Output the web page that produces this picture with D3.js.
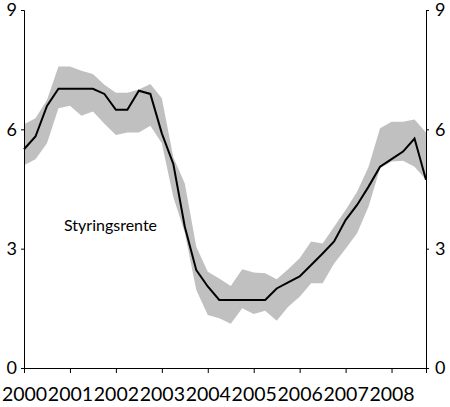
<!DOCTYPE html><html><head><meta charset="utf-8">
<script src="https://cdn.jsdelivr.net/npm/d3@7"></script>
<style>body{margin:0;background:#fff}svg{font-family:Lato,"Open Sans",sans-serif}</style></head><body>
<svg id="c" width="450" height="407"></svg>
<script>
const rate=[5.5,5.82,6.59,7.02,7.02,7.02,7.02,6.89,6.49,6.49,6.97,6.89,5.9,5.13,3.55,2.46,2.05,1.71,1.71,1.71,1.71,1.71,2.0,2.15,2.3,2.59,2.88,3.18,3.72,4.1,4.56,5.06,5.25,5.44,5.77,4.73];
const upper=[6.13,6.28,6.74,7.58,7.58,7.47,7.39,7.12,6.92,6.92,7.0,7.14,6.78,5.3,4.64,3.05,2.42,2.25,2.06,2.48,2.4,2.38,2.23,2.48,2.76,3.18,3.13,3.55,3.97,4.43,5.06,6.03,6.19,6.19,6.25,5.92];
const lower=[5.1,5.25,5.65,6.53,6.59,6.34,6.45,6.14,5.86,5.92,5.92,6.09,5.65,4.3,3.4,1.96,1.33,1.25,1.11,1.5,1.36,1.44,1.19,1.54,1.79,2.13,2.13,2.63,3.0,3.39,4.06,5.02,5.19,5.21,5.06,4.73];
const years=[2000,2001,2002,2003,2004,2005,2006,2007,2008];
const yTicks=[0,3,6,9];
const svg=d3.select("#c");
const x=d3.scaleLinear().domain([2000,2008.75]).range([24,426]);
const y=d3.scaleLinear().domain([0,9]).range([368,10]);
const t=i=>2000+i*0.25;
svg.append("path").datum(rate).attr("fill","#c0c0c0")
 .attr("d",d3.area().x((d,i)=>x(t(i))).y0((d,i)=>y(lower[i])).y1((d,i)=>y(upper[i])));
svg.append("path").datum(rate).attr("fill","none").attr("stroke","#000").attr("stroke-width",2)
 .attr("d",d3.line().x((d,i)=>x(t(i))).y(d=>y(d)));
const yl=svg.append("g").attr("transform","translate(24,0)").call(d3.axisLeft(y).tickValues(yTicks).tickSize(3).tickPadding(4).tickFormat(d3.format("d")));
const yr=svg.append("g").attr("transform","translate(426,0)").call(d3.axisRight(y).tickValues(yTicks).tickSize(3).tickPadding(6).tickFormat(d3.format("d")));
const xa=svg.append("g").attr("transform","translate(0,368)").call(d3.axisBottom(x).tickValues(years.concat([2008.75])).tickSize(5).tickPadding(14).tickFormat(d=>years.includes(d)?d:""));
[yl,yr,xa].forEach(g=>{g.select(".domain").attr("stroke","#000");g.selectAll("line").attr("stroke","#000");g.selectAll("text").attr("font-size",18).attr("fill","#000").attr("font-family","Lato,sans-serif");});
xa.selectAll("text").attr("font-size",19.5);
svg.append("text").attr("x",64).attr("y",231).attr("font-size",16).text("Styringsrente");
</script></body></html>
